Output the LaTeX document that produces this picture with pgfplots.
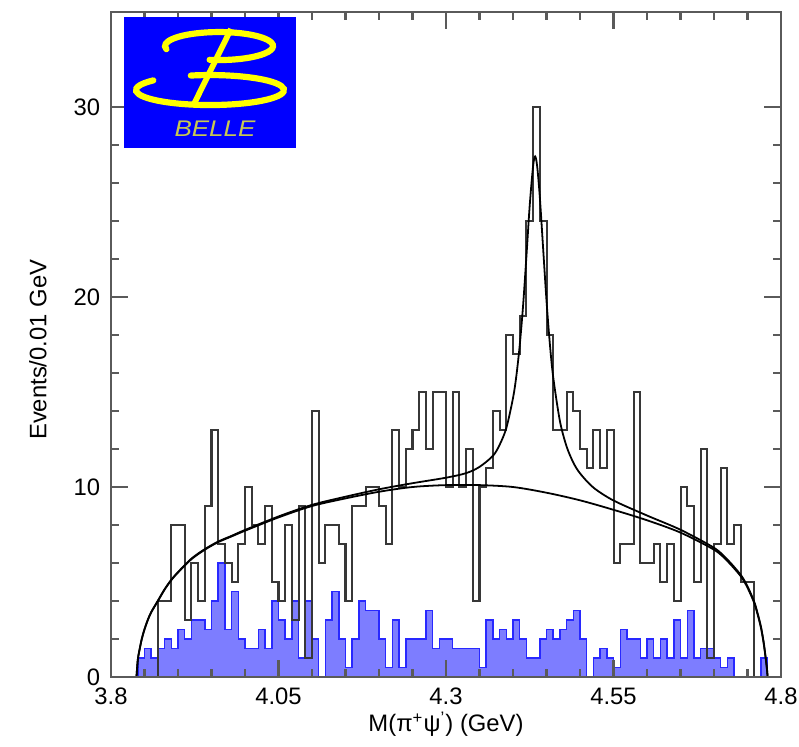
\documentclass[border=0pt]{standalone}
\usepackage{fontspec}
\setmainfont{Liberation Sans}
\usepackage{pgfplots}
\pgfplotsset{compat=1.18}
\usepackage{pgfplotstable}

\definecolor{bgblue}{RGB}{125,125,255}
\definecolor{edgeblue}{RGB}{40,40,255}
\definecolor{framegray}{RGB}{90,90,90}
\definecolor{histgray}{RGB}{55,55,55}
\definecolor{logoblue}{RGB}{0,0,255}
\definecolor{logoyellow}{RGB}{255,255,0}
\definecolor{logotext}{RGB}{200,200,80}

% signal region, bin lower edge and entries
\pgfplotstableread{
x y
3.87 0
3.87 4
3.88 4
3.89 8
3.90 8
3.91 3
3.92 6
3.93 4
3.94 9
3.95 13
3.96 7
3.97 6
3.98 5
3.99 7
4.00 10
4.01 8
4.02 7
4.03 9
4.04 5
4.05 4
4.06 8
4.07 3
4.08 9
4.09 1
4.10 14
4.11 6
4.12 8
4.13 8
4.14 7
4.15 4
4.16 9
4.17 9
4.18 10
4.19 10
4.20 9
4.21 7
4.22 13
4.23 10
4.24 12
4.25 13
4.26 15
4.27 12
4.28 15
4.29 15
4.30 10
4.31 15
4.32 10
4.33 12
4.34 4
4.35 10
4.36 11
4.37 14
4.38 13
4.39 18
4.40 17
4.41 19
4.42 24
4.43 30
4.44 24
4.45 18
4.46 13
4.47 13
4.48 15
4.49 14
4.50 12
4.51 11
4.52 13
4.53 11
4.54 13
4.55 6
4.56 7
4.57 7
4.58 15
4.59 6
4.60 6
4.61 7
4.62 5
4.63 7
4.64 4
4.65 10
4.66 9
4.67 5
4.68 12
4.69 1
4.70 7
4.71 11
4.72 7
4.73 8
4.74 5
4.75 5
4.76 0
}\sighist

% sideband background (scaled)
\pgfplotstableread{
x y
3.84 1
3.85 1.5
3.86 1
3.87 1.5
3.88 2
3.89 1.5
3.90 2.5
3.91 2
3.92 3
3.93 3
3.94 2.5
3.95 4
3.96 6
3.97 2.5
3.98 4.5
3.99 2
4.00 1.5
4.01 1.5
4.02 2.5
4.03 1.5
4.04 4
4.05 3
4.06 2
4.07 4
4.08 1
4.09 4
4.10 2
4.11 0
4.12 3
4.13 4.5
4.14 2
4.15 0.5
4.16 2
4.17 4
4.18 3.5
4.19 3.5
4.20 2
4.21 0.5
4.22 3
4.23 0.5
4.24 2
4.25 2
4.26 2
4.27 3.5
4.28 1.5
4.29 2
4.30 2
4.31 1.5
4.32 1.5
4.33 1.5
4.34 1.5
4.35 0.5
4.36 3
4.37 2
4.38 2.5
4.39 2
4.40 3
4.41 2
4.42 1
4.43 1
4.44 2
4.45 2.5
4.46 2
4.47 2.5
4.48 3
4.49 3.5
4.50 2
4.51 0
4.52 1
4.53 1.5
4.54 1
4.55 0.5
4.56 2.5
4.57 2
4.58 2
4.59 1
4.60 2
4.61 1
4.62 2
4.63 1
4.64 3
4.65 1
4.66 3.5
4.67 1
4.68 1.5
4.69 1.5
4.70 1
4.71 0.5
4.72 1
4.73 0
4.74 0
4.75 0
4.76 0
4.77 1
4.78 1
}\sidehist

% fitted background
\pgfplotstableread{
x y
3.838 0
3.840 0.9
3.843 1.5
3.846 2.0
3.850 2.5
3.855 3.0
3.860 3.4
3.870 4.0
3.880 4.6
3.890 5.1
3.900 5.5
3.920 6.2
3.940 6.7
3.960 7.1
3.980 7.4
4.000 7.7
4.050 8.4
4.100 9.0
4.150 9.4
4.200 9.75
4.250 10.0
4.300 10.1
4.350 10.1
4.400 10.0
4.450 9.7
4.500 9.3
4.550 8.8
4.600 8.25
4.650 7.6
4.700 6.7
4.720 6.1
4.740 5.3
4.750 4.7
4.760 3.9
4.765 3.3
4.770 2.6
4.774 1.8
4.777 1.0
4.779 0.4
4.780 0
}\bgfit

% fitted signal + background
\pgfplotstableread{
x y
3.838 0
3.840 0.92
3.843 1.52
3.846 2.02
3.850 2.52
3.855 3.02
3.860 3.42
3.870 4.02
3.880 4.62
3.890 5.12
3.900 5.52
3.920 6.23
3.940 6.73
3.960 7.13
3.980 7.43
4.000 7.74
4.050 8.45
4.100 9.06
4.150 9.49
4.200 9.88
4.250 10.2
4.300 10.49
4.330 10.73
4.350 11.06
4.370 11.64
4.380 12.22
4.390 13.10
4.400 14.68
4.405 15.85
4.410 17.45
4.415 19.53
4.420 22.13
4.425 24.85
4.430 26.9
4.433 27.4
4.436 26.9
4.440 25.27
4.445 22.53
4.450 19.80
4.455 17.53
4.460 15.78
4.470 13.47
4.480 12.13
4.490 11.29
4.500 10.72
4.520 9.97
4.550 9.29
4.600 8.50
4.650 7.75
4.700 6.80
4.720 6.18
4.740 5.37
4.750 4.77
4.760 3.96
4.765 3.36
4.770 2.66
4.774 1.86
4.777 1.06
4.779 0.46
4.780 0
}\totfit

\begin{document}
\begin{tikzpicture}
\begin{axis}[
    name=ax,
    scale only axis,
    width=281.4pt, height=279.3pt,
    xmin=3.8, xmax=4.8, ymin=0, ymax=35,
    xtick={3.8,4.05,4.3,4.55,4.8},
    xticklabels={3.8,4.05,4.3,4.55,4.8},
    ytick={0,10,20,30},
    minor x tick num=4, minor y tick num=4,
    tick align=inside, tick pos=both,
    major tick length=7pt, minor tick length=3.4pt,
    axis line style={framegray, line width=1.1pt},
    every tick/.append style={framegray, line width=0.9pt},
    axis on top,
    xlabel={M(π\textsuperscript{+}ψ\textsuperscript{\textquoteright}) (GeV)},
    ylabel={Events/0.01 GeV},
    xlabel style={at={(axis description cs:0.5,-0.071)}, anchor=center},
    ylabel style={at={(axis description cs:-0.109,0.492)}, anchor=center},
    /pgf/number format/assume math mode=true,
    yticklabel style={xshift=-1pt},
    xticklabel style={yshift=-1pt},
]

\addplot[const plot, fill=bgblue, draw=edgeblue, line width=0.6pt] table {\sidehist} \closedcycle;

\addplot[const plot, draw=histgray, line width=0.85pt] table {\sighist};

\addplot[smooth, black, line width=0.75pt] table {\bgfit};
\addplot[smooth, black, line width=0.75pt] table {\totfit};

\end{axis}

% Belle logo and page frame, in pixel units of the reference
\begin{scope}[shift={(ax.south west)}, x=0.42pt, y=-0.42pt, shift={(-111,-677)}]
  \fill[logoblue] (124,17) rectangle (296,148);
  \draw[logoyellow, line width=2.6pt, line cap=round]
    (166.4,49.2) arc[start angle=167, end angle=460, x radius=54, y radius=14];
  \draw[logoyellow, line width=2.6pt, line cap=round]
    (153.3,80.4) arc[start angle=220, end angle=-105, x radius=74, y radius=15];
  \draw[logoyellow, line width=2.4pt] (231,29) -- (194,104);
  \node[logotext, font=\fontsize{9.5}{11}\selectfont\itshape, xscale=1.15] at (215,129) {BELLE};
  \pgfresetboundingbox
  \path[use as bounding box] (0,0) rectangle (799,746);
\end{scope}
\end{tikzpicture}
\end{document}
